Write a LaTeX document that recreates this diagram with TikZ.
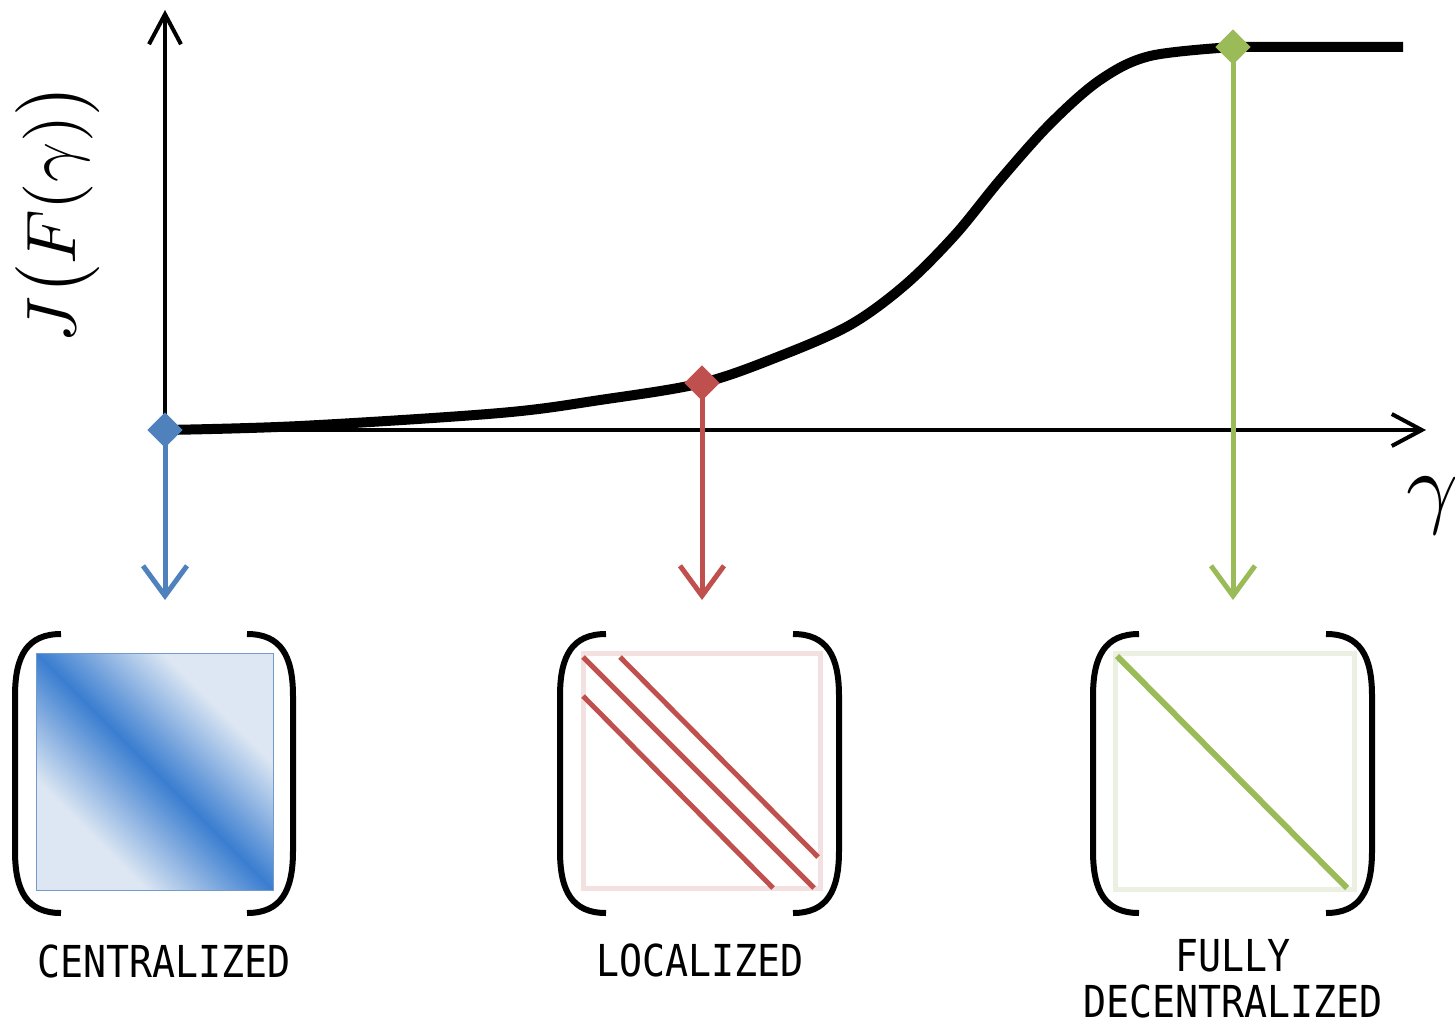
\documentclass[tikz,border=0pt]{standalone}
\usepackage{fontspec}
\setmonofont{DejaVu Sans Mono}
\usetikzlibrary{arrows.meta}
\definecolor{cblue}{HTML}{4F81BD}
\definecolor{cred}{HTML}{C0504D}
\definecolor{cgreen}{HTML}{9BBB59}
\definecolor{shadelight}{HTML}{DDE7F3}
\definecolor{shadedark}{HTML}{3A7DD0}
\definecolor{redframe}{HTML}{F2E1E0}
\definecolor{greenframe}{HTML}{EBF0E3}
\pgfdeclareverticalshading{diagband}{100bp}{color(0bp)=(shadelight); color(31bp)=(shadelight); color(50bp)=(shadedark); color(69bp)=(shadelight); color(100bp)=(shadelight)}
% round brackets of a matrix: #1 left stroke x, #2 right stroke x, #3 top y, #4 bottom y
\newcommand\matbrackets[4]{%
  \draw[bracket] ({#1+46},#3) .. controls ({#1+12},#3) and (#1,{#3+22}) .. (#1,{#3+62})
     -- (#1,{#4-62}) .. controls (#1,{#4-22}) and ({#1+12},#4) .. ({#1+46},#4);
  \draw[bracket] ({#2-46},#3) .. controls ({#2-12},#3) and (#2,{#3+22}) .. (#2,{#3+62})
     -- (#2,{#4-62}) .. controls (#2,{#4-22}) and ({#2-12},#4) .. ({#2-46},#4);
}
\tikzset{
  axis/.style={line width=4pt, -{Straight Barb[length=30pt,width=32pt]}},
  pick/.style={line width=5pt, -{Straight Barb[length=30pt,width=44pt]}},
  marker/.style={rectangle, rotate=45, minimum size=25pt, inner sep=0pt, fill=#1},
  bracket/.style={line width=6pt, black},
  band/.style={line width=5pt, #1},
  caption/.style={font=\fontsize{44}{46}\selectfont\ttfamily, xscale=0.87, align=center, inner sep=0pt}
}
\begin{document}
\begin{tikzpicture}[x=1pt, y=-1pt]
\clip (0,0) rectangle (1455,1022);
\fill[white] (0,0) rectangle (1455,1022);

% axes
\coordinate (O) at (165,430);
\coordinate (ytop) at (165,10);
\coordinate (xend) at (1426,430);
\draw[axis] (O) -- (ytop);
\draw[axis] (O) -- (xend);
\node[rotate=90, scale=7, inner sep=0pt] (ylab) at (58,213) {$J\bigl(F(\gamma)\bigr)$};
\node[scale=9.1, inner sep=0pt] (xlab) at (1433,506) {$\gamma$};

% cost curve
\draw[line width=10pt, line cap=butt] plot[smooth, tension=0.55] coordinates
  {(165,430) (300,426) (500,413) (600,400) (702,383) (780,356) (850,325)
   (905,285) (955,235) (1000,180) (1050,124) (1100,80) (1150,56) (1233,47)}
  -- (1403,47);

% arrows down to the matrices
\coordinate (bend) at (165,600);
\coordinate (rend) at (702,600);
\coordinate (gend) at (1233,600);
\draw[pick, cblue] (O) -- (bend);
\draw[pick, cred] (702,383) -- (rend);
\draw[pick, cgreen] (1233,47) -- (gend);

\node[marker=cblue] (bm) at (O) {};
\node[marker=cred] (rm) at (702,383) {};
\node[marker=cgreen] (gm) at (1233,47) {};

% centralized: dense matrix
\shade[shading=diagband, shading angle=-45] (36,653) rectangle (273,890);
\draw[cblue!80, line width=1pt] (36,653) rectangle (273,890);
\matbrackets{15}{293}{634}{913}
\node[caption] (c1) at (164,961) {CENTRALIZED};

% localized: banded matrix
\draw[redframe, line width=5pt] (583,653) rectangle (820,888);
\draw[band=cred] (583,657) -- (814,888);
\draw[band=cred] (620,657) -- (818,857);
\draw[band=cred] (583,696) -- (773,888);
\matbrackets{560}{839}{634}{913}
\node[caption] (c2) at (700,960) {LOCALIZED};

% fully decentralized: diagonal matrix
\draw[greenframe, line width=5pt] (1115,653) rectangle (1354,889);
\draw[band=cgreen, line width=6pt] (1117,656) -- (1347,888);
\matbrackets{1093}{1372}{634}{913}
\node[caption] (c3) at (1233,979) {FULLY\\DECENTRALIZED};
\end{tikzpicture}
\end{document}
